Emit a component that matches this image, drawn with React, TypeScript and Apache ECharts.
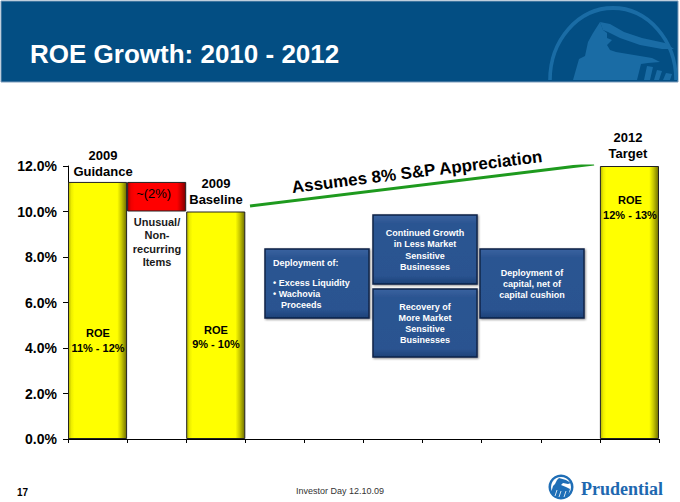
import React, { useEffect, useRef } from "react";
import * as echarts from "echarts";

// ---------- data ----------
const categories = [
  "2009 Guidance",
  "Unusual/Non-recurring Items",
  "2009 Baseline",
  "c4",
  "c5",
  "c6",
  "c7",
  "c8",
  "c9",
  "2012 Target",
];
const roeValues: (number | string)[] = [11.3, "-", 10.0, "-", "-", "-", "-", "-", "-", 12.0];
const baseValues: (number | string)[] = ["-", 10.0, "-", "-", "-", "-", "-", "-", "-", "-"];
const changeValues: (number | string)[] = ["-", 1.3, "-", "-", "-", "-", "-", "-", "-", "-"];
const trendPoints: number[][] = [
  [3.08, 10.24],
  [8.9, 12.09],
];
const yMin = 0;
const yMax = 12;
const yStep = 2;

const titleText = "ROE Growth: 2010 - 2012";
const changeLabel = "~(2%)";
const trendLabel = "Assumes 8% S&P Appreciation";
const guidanceHead = ["2009", "Guidance"];
const baselineHead = ["2009", "Baseline"];
const targetHead = ["2012", "Target"];
const unusualText = ["Unusual/", "Non-", "recurring", "Items"];
const roeGuidance = ["ROE", "11% - 12%"];
const roeBaseline = ["ROE", "9% - 10%"];
const roeTarget = ["ROE", "12% - 13%"];
const box1Lines = ["Deployment of:", "• Excess Liquidity", "• Wachovia", "Proceeds"];
const box2Lines = ["Continued Growth", "in Less Market", "Sensitive", "Businesses"];
const box3Lines = ["Recovery of", "More Market", "Sensitive", "Businesses"];
const box4Lines = ["Deployment of", "capital, net of", "capital cushion"];
const footerPage = "17";
const footerCenter = "Investor Day 12.10.09";
const brandName = "Prudential";

const SANS = '"Liberation Sans", Arial, sans-serif';

function yellowGrad() {
  return new echarts.graphic.LinearGradient(0, 0, 1, 0, [
    { offset: 0, color: "#B5B500" },
    { offset: 0.05, color: "#EEEE00" },
    { offset: 0.1, color: "#FFFF00" },
    { offset: 0.84, color: "#FFFF00" },
    { offset: 0.91, color: "#C9C900" },
    { offset: 1, color: "#6E6E00" },
  ]);
}
function redGrad() {
  return new echarts.graphic.LinearGradient(0, 0, 1, 0, [
    { offset: 0, color: "#B00000" },
    { offset: 0.06, color: "#F00000" },
    { offset: 0.12, color: "#FF0000" },
    { offset: 0.85, color: "#FF0000" },
    { offset: 0.92, color: "#C80000" },
    { offset: 1, color: "#7A0000" },
  ]);
}

function textLines(
  lines: string[],
  x: number,
  y0: number,
  dy: number,
  font: string,
  fill: string,
  align: string = "center"
) {
  return lines.map((t, i) => ({
    type: "text",
    z: 100,
    style: {
      text: t,
      x,
      y: y0 + i * dy,
      font,
      fill,
      align,
      verticalAlign: "middle",
      textAlign: align,
      textVerticalAlign: "middle",
    },
  }));
}

function blueBox(x: number, y: number, w: number, h: number) {
  return {
    type: "rect",
    z: 90,
    shape: { x, y, width: w, height: h },
    style: {
      fill: new echarts.graphic.LinearGradient(0, 0, 0, 1, [
        { offset: 0, color: "#3A63A0" },
        { offset: 0.12, color: "#2C5592" },
        { offset: 0.88, color: "#2A5390" },
        { offset: 1, color: "#1D4178" },
      ]),
      stroke: "#0E2548",
      lineWidth: 1.5,
      shadowBlur: 2,
      shadowColor: "rgba(0,0,0,0.45)",
      shadowOffsetX: 1,
      shadowOffsetY: 1,
    },
  };
}

export default function App() {
  const ref = useRef<HTMLDivElement>(null);

  useEffect(() => {
    document.body.style.margin = "0";
    if (!ref.current) return;
    const chart = echarts.init(ref.current, undefined, { renderer: "svg" });

    const boxFont = `bold 9px ${SANS}`;
    const headFont = `bold 13px ${SANS}`;
    const roeFont = `bold 11px ${SANS}`;
    const logoBlue = "#1F6EB6";

    const graphic: any[] = [
      // header
      {
        type: "rect",
        z: 10,
        shape: { x: 1, y: 1, width: 677, height: 81 },
        style: { fill: "#034E83", stroke: "#7D9CBB", lineWidth: 1 },
      },
      {
        type: "group",
        x: 613,
        y: 80,
        scaleY: 72 / 63,
        z: 11,
        children: [
          {
            type: "arc",
            z: 11,
            shape: { cx: 0, cy: 0, r: 63, startAngle: Math.PI, endAngle: Math.PI * 2 },
            style: { stroke: "#1A6CA5", lineWidth: 3.6, fill: null },
          },
        ],
      },
      {
        type: "polygon",
        z: 11,
        shape: {
          points: [
            [600, 22], [610, 24], [624, 32], [642, 38], [665, 43], [674, 49],
            [662, 49], [640, 45], [620, 38], [608, 32], [603, 30],
          ],
        },
        style: { fill: "#1A6CA5" },
      },
      {
        type: "polygon",
        z: 11,
        shape: {
          points: [
            [573, 80], [579, 59], [585, 56], [588, 42], [593, 33], [600, 22],
            [603, 30], [607, 33], [607, 38], [612, 40], [607, 45], [610, 50],
            [616, 52], [640, 56], [652, 58], [660, 62], [648, 63], [641, 64], [637, 80],
          ],
        },
        style: { fill: "#1A6CA5" },
      },
      {
        type: "polygon",
        z: 11,
        shape: { points: [[644, 80], [647, 66], [653, 67], [650, 80]] },
        style: { fill: "#1A6CA5" },
      },
      {
        type: "polygon",
        z: 11,
        shape: { points: [[654, 80], [657, 70], [662, 71], [659, 80]] },
        style: { fill: "#1A6CA5" },
      },
      {
        type: "polygon",
        z: 11,
        shape: { points: [[663, 80], [666, 73], [672, 74], [670, 80]] },
        style: { fill: "#1A6CA5" },
      },
      {
        type: "text",
        z: 12,
        style: {
          text: titleText,
          x: 30,
          y: 54,
          font: `bold 26px ${SANS}`,
          fill: "#FFFFFF",
          align: "left",
          verticalAlign: "middle",
          textAlign: "left",
          textVerticalAlign: "middle",
        },
      },
      // heads over bars
      ...textLines(guidanceHead, 103, 155, 16, headFont, "#000"),
      ...textLines(baselineHead, 216, 183, 16, headFont, "#000"),
      ...textLines(targetHead, 628, 137, 16, headFont, "#000"),
      ...textLines(unusualText, 157, 222, 13.4, `bold 11px ${SANS}`, "#1a1a1a"),
      ...textLines(roeGuidance, 98, 333, 15, roeFont, "#000"),
      ...textLines(roeBaseline, 216, 330, 14, roeFont, "#000"),
      ...textLines(roeTarget, 630, 200, 15, roeFont, "#000"),
      // trend label
      {
        type: "text",
        z: 100,
        x: 417,
        y: 172,
        rotation: 0.123,
        style: {
          text: trendLabel,
          x: 0,
          y: 0,
          font: `bold 17px ${SANS}`,
          fill: "#000",
          align: "center",
          verticalAlign: "middle",
          textAlign: "center",
          textVerticalAlign: "middle",
        },
      },
      // boxes
      blueBox(265, 249, 104, 69),
      blueBox(373, 215, 104, 69),
      blueBox(373, 289, 104, 68),
      blueBox(480, 249, 104, 69),
      ...textLines([box1Lines[0]], 273, 263, 11, boxFont, "#fff", "left"),
      ...textLines([box1Lines[1], box1Lines[2]], 273, 283, 11, boxFont, "#fff", "left"),
      ...textLines([box1Lines[3]], 281, 305, 11, boxFont, "#fff", "left"),
      ...textLines(box2Lines, 425, 233, 11.3, boxFont, "#fff"),
      ...textLines(box3Lines, 425, 307, 11, boxFont, "#fff"),
      ...textLines(box4Lines, 532, 273, 11, boxFont, "#fff"),
      // footer
      {
        type: "text",
        z: 100,
        style: {
          text: footerPage,
          x: 17,
          y: 492,
          font: `bold 10px ${SANS}`,
          fill: "#000",
          align: "left",
          verticalAlign: "middle",
          textAlign: "left",
          textVerticalAlign: "middle",
        },
      },
      {
        type: "text",
        z: 100,
        style: {
          text: footerCenter,
          x: 340,
          y: 491,
          font: `9px ${SANS}`,
          fill: "#333",
          align: "center",
          verticalAlign: "middle",
          textAlign: "center",
          textVerticalAlign: "middle",
        },
      },
      // footer logo: ring, white inside, blue rock
      {
        type: "circle",
        z: 100,
        shape: { cx: 561, cy: 487, r: 12.5 },
        style: { fill: logoBlue },
      },
      {
        type: "circle",
        z: 101,
        shape: { cx: 561, cy: 487, r: 10 },
        style: { fill: "#fff" },
      },
      {
        type: "polygon",
        z: 102,
        shape: {
          points: [
            [551, 493], [553, 486], [555, 484], [557, 480], [559, 478],
            [566, 480], [571, 483], [568, 484], [563, 483], [561, 485],
            [566, 487], [570, 489], [568, 496], [561, 498], [554, 496],
          ],
        },
        style: { fill: logoBlue },
      },
      {
        type: "polyline",
        z: 103,
        shape: { points: [[555, 496], [557, 490]] },
        style: { stroke: "#fff", lineWidth: 0.8, fill: null },
      },
      {
        type: "polyline",
        z: 103,
        shape: { points: [[559, 497], [561, 491]] },
        style: { stroke: "#fff", lineWidth: 0.8, fill: null },
      },
      {
        type: "polyline",
        z: 103,
        shape: { points: [[564, 497], [566, 491]] },
        style: { stroke: "#fff", lineWidth: 0.8, fill: null },
      },
      {
        type: "text",
        z: 100,
        style: {
          text: brandName,
          x: 581,
          y: 489,
          font: `bold 18px "Liberation Serif", "Times New Roman", serif`,
          fill: "#1E68B0",
          align: "left",
          verticalAlign: "middle",
          textAlign: "left",
          textVerticalAlign: "middle",
        },
      },
    ];

    chart.setOption({
      animation: false,
      backgroundColor: "#ffffff",
      grid: { left: 68, right: 21, top: 166, bottom: 63, containLabel: false },
      xAxis: [
        {
          type: "category",
          data: categories,
          boundaryGap: true,
          axisLine: { show: true, lineStyle: { color: "#000", width: 1 } },
          axisTick: { show: true, interval: 0, length: 4, lineStyle: { color: "#000" } },
          axisLabel: { show: false },
          splitLine: { show: false },
        },
        {
          type: "value",
          min: 0,
          max: categories.length,
          show: false,
          gridIndex: 0,
        },
      ],
      yAxis: {
        type: "value",
        min: yMin,
        max: yMax,
        interval: yStep,
        axisLine: { show: true, lineStyle: { color: "#000", width: 1 } },
        axisTick: { show: true, length: 5, lineStyle: { color: "#000" } },
        splitLine: { show: false },
        axisLabel: {
          formatter: (v: number) => v.toFixed(1) + "%",
          color: "#000",
          fontWeight: "bold",
          fontSize: 14,
          fontFamily: SANS,
          margin: 11,
        },
      },
      series: [
        {
          name: "base",
          type: "bar",
          stack: "w",
          barCategoryGap: "0%",
          data: baseValues,
          itemStyle: { color: "rgba(0,0,0,0)", borderWidth: 0 },
          silent: true,
        },
        {
          name: "ROE",
          type: "bar",
          stack: "w",
          barCategoryGap: "0%",
          data: roeValues,
          itemStyle: { color: yellowGrad(), borderColor: "#222", borderWidth: 1 },
        },
        {
          name: "change",
          type: "bar",
          stack: "w",
          barCategoryGap: "0%",
          data: changeValues,
          itemStyle: { color: redGrad(), borderColor: "#222", borderWidth: 1 },
          label: {
            show: true,
            position: "inside",
            formatter: changeLabel,
            color: "#000",
            fontSize: 13,
            fontFamily: SANS,
            offset: [-3, -3],
          },
        },
        {
          name: "trend",
          type: "line",
          xAxisIndex: 1,
          yAxisIndex: 0,
          data: trendPoints,
          symbol: "none",
          z: 5,
          lineStyle: { color: "#1E9A1E", width: 3 },
        },
      ],
      graphic,
    });

    return () => chart.dispose();
  }, []);

  return <div ref={ref} style={{ width: 680, height: 502 }} />;
}
